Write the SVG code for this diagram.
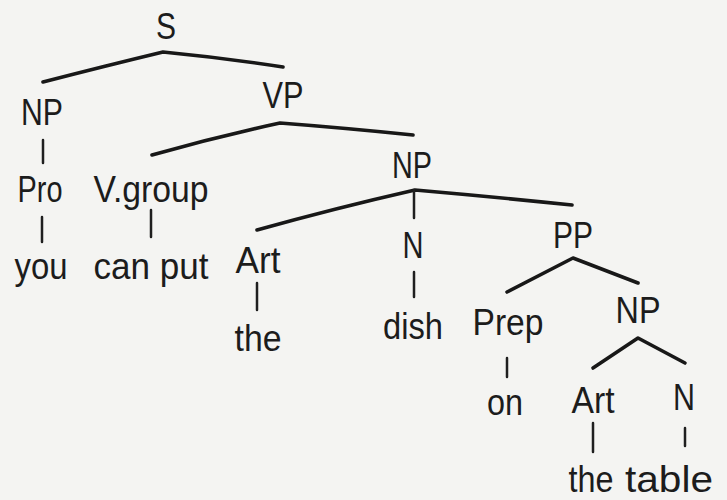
<svg xmlns="http://www.w3.org/2000/svg" width="727" height="500" viewBox="0 0 727 500">
  <style>
    .lbl { font-family: "Liberation Sans", Arial, sans-serif; font-size: 36px; fill: #1c1c1c; text-anchor: middle; }
    .edge { fill: none; stroke: #181818; stroke-width: 3.6; stroke-linecap: round; stroke-linejoin: round; }
    .stem { fill: none; stroke: #1f1f1f; stroke-width: 2.5; stroke-linecap: round; }
  </style>
  <rect width="727" height="500" fill="#f4f4f2"/>

  <!-- branches of the parse tree -->
  <g id="connectors">
    <path class="edge" d="M43,82 Q105,66 163,52 Q225,58 283,67"/>
    <line class="stem" x1="43" y1="140" x2="43" y2="163"/>
    <path class="edge" d="M152,155 Q215,137 280,123 Q345,128 413,135"/>
    <line class="stem" x1="42" y1="217" x2="42" y2="242"/>
    <line class="stem" x1="151" y1="210" x2="151" y2="237"/>
    <path class="edge" d="M257,230 Q336,208 415,190 Q495,197 572,205"/>
    <line class="stem" x1="414" y1="190" x2="414" y2="218"/>
    <line class="stem" x1="414" y1="272" x2="414" y2="297"/>
    <line class="stem" x1="257" y1="283" x2="257" y2="310"/>
    <polyline class="edge" points="507,292 573,258 638,283"/>
    <polyline class="edge" points="593,368 638,338 685,363"/>
    <line class="stem" x1="507" y1="358" x2="507" y2="377"/>
    <line class="stem" x1="593" y1="423" x2="593" y2="452"/>
    <line class="stem" x1="685" y1="428" x2="685" y2="446"/>
  </g>

  <g id="S"><text class="lbl" x="166" y="39" textLength="20" lengthAdjust="spacingAndGlyphs">S</text></g>
  <g id="NP-subject"><text class="lbl" x="42" y="125" textLength="42" lengthAdjust="spacingAndGlyphs">NP</text></g>
  <g id="VP"><text class="lbl" x="283" y="108" textLength="41" lengthAdjust="spacingAndGlyphs">VP</text></g>
  <g id="Pro"><text class="lbl" x="40" y="202" textLength="45" lengthAdjust="spacingAndGlyphs">Pro</text></g>
  <g id="V-group"><text class="lbl" x="151" y="202" textLength="115" lengthAdjust="spacingAndGlyphs">V.group</text></g>
  <g id="you"><text class="lbl" x="41" y="279" textLength="53" lengthAdjust="spacingAndGlyphs">you</text></g>
  <g id="can-put"><text class="lbl" x="151" y="279" textLength="115" lengthAdjust="spacingAndGlyphs">can put</text></g>
  <g id="Art-1"><text class="lbl" x="258" y="273" textLength="45" lengthAdjust="spacingAndGlyphs">Art</text></g>
  <g id="the-1"><text class="lbl" x="258" y="351" textLength="47" lengthAdjust="spacingAndGlyphs">the</text></g>
  <g id="NP-object"><text class="lbl" x="412" y="178" textLength="40" lengthAdjust="spacingAndGlyphs">NP</text></g>
  <g id="N-1"><text class="lbl" x="413" y="258" textLength="21" lengthAdjust="spacingAndGlyphs">N</text></g>
  <g id="dish"><text class="lbl" x="413" y="339" textLength="60" lengthAdjust="spacingAndGlyphs">dish</text></g>
  <g id="PP"><text class="lbl" x="573" y="248" textLength="40" lengthAdjust="spacingAndGlyphs">PP</text></g>
  <g id="Prep"><text class="lbl" x="508" y="335" textLength="71" lengthAdjust="spacingAndGlyphs">Prep</text></g>
  <g id="on"><text class="lbl" x="505" y="415" textLength="36" lengthAdjust="spacingAndGlyphs">on</text></g>
  <g id="NP-pp"><text class="lbl" x="638" y="323" textLength="45" lengthAdjust="spacingAndGlyphs">NP</text></g>
  <g id="Art-2"><text class="lbl" x="593" y="413" textLength="43" lengthAdjust="spacingAndGlyphs">Art</text></g>
  <g id="N-2"><text class="lbl" x="684" y="410" textLength="22" lengthAdjust="spacingAndGlyphs">N</text></g>
  <g id="the-2"><text class="lbl" x="591" y="492" textLength="45" lengthAdjust="spacingAndGlyphs">the</text></g>
  <g id="table"><text class="lbl" x="669" y="492" textLength="88" lengthAdjust="spacingAndGlyphs">table</text></g>
</svg>
